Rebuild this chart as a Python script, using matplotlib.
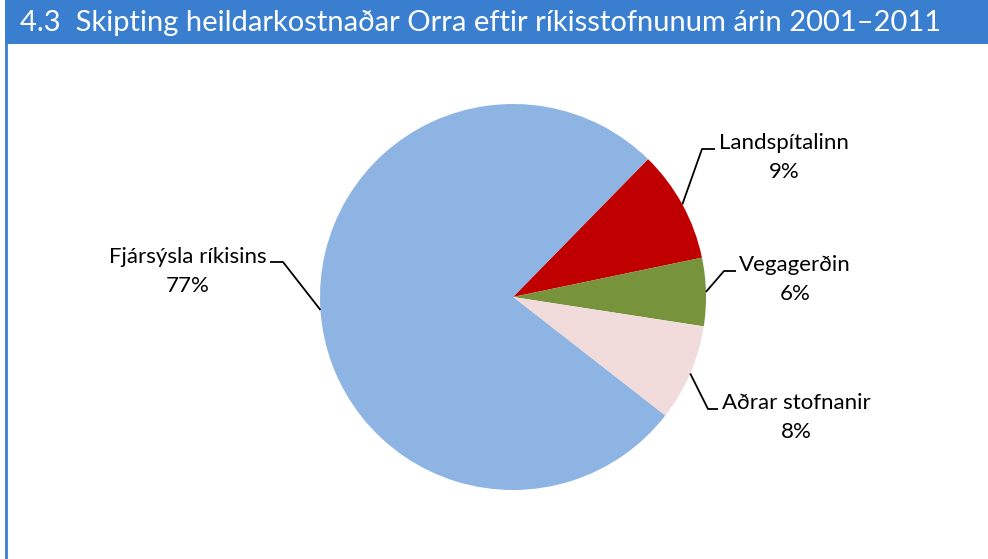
import numpy as np
import matplotlib
matplotlib.use("Agg")
import matplotlib.pyplot as plt

# data
labels = ["Landspítalinn", "Vegagerðin", "Aðrar stofnanir", "Fjársýsla ríkisins"]
shares = [9.4, 5.7, 8.1, 76.8]
pct_labels = ["9%", "6%", "8%", "77%"]
colors = ["#C00000", "#77933C", "#F2DCDB", "#8EB4E3"]
title = "4.3  Skipting heildarkostnaðar Orra eftir ríkisstofnunum árin 2001\u20132011"

W, H = 988, 559
BAR = "#3A7ED0"
plt.rcParams["font.family"] = ["Lato", "DejaVu Sans"]

fig = plt.figure(figsize=(W / 100, H / 100), dpi=100)
ax = fig.add_axes([0, 0, 1, 1])
ax.set_xlim(0, W)
ax.set_ylim(0, H)
ax.axis("off")


def Y(y):
    return H - y


# title bar and left frame line
ax.add_patch(plt.Rectangle((5, Y(44)), W - 5, 44, color=BAR, lw=0))
ax.plot([6, 6], [Y(44), 0], color=BAR, lw=2)
ax.text(20, Y(23), title, color="white", fontsize=21, va="center", ha="left")

cx, cy, r = 513, 297, 193
start = 45.6
wedges, _ = ax.pie(shares, colors=colors, startangle=start, counterclock=False,
                   center=(cx, Y(cy)), radius=r, frame=False,
                   wedgeprops=dict(linewidth=0))
ax.set_xlim(0, W)
ax.set_ylim(0, H)
ax.set_aspect("equal")

# label layout: (elbow x, elbow y, line end x, text centre x, text y)
layout = [
    (702, 149, 715, 784, 143),
    (724, 271, 736, 795, 265),
    (708, 409, 718, 796, 403),
    (283, 262, 270, 188, 257),
]

for w, lab, pct, (ex, ey, lx, tx, ty) in zip(wedges, labels, pct_labels, layout):
    mid = np.deg2rad((w.theta1 + w.theta2) / 2)
    sx = cx + r * np.cos(mid)
    sy = cy - r * np.sin(mid)
    ax.plot([sx, ex, lx], [Y(sy), Y(ey), Y(ey)], color="black", lw=1.3,
            solid_capstyle="butt")
    ax.text(tx, Y(ty), lab, fontsize=16, ha="center", va="center")
    ax.text(tx, Y(ty + 29), pct, fontsize=16, ha="center", va="center")

fig.savefig("out.png", dpi=100)
